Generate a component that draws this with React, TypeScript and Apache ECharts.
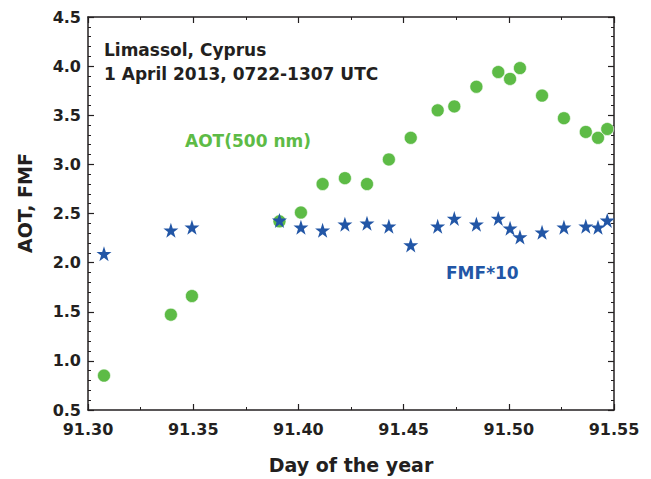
import React, { useEffect, useRef } from "react";
import * as echarts from "echarts";

const days = [
  91.3076, 91.3394, 91.3494, 91.391, 91.4012, 91.4115, 91.4221, 91.4326, 91.443, 91.4534,
  91.4662, 91.4741, 91.4846, 91.495, 91.5006, 91.5053, 91.5158, 91.5262, 91.5366, 91.5424, 91.5468,
];
const aot = [
  0.85, 1.47, 1.66, 2.42, 2.51, 2.8, 2.86, 2.8, 3.05, 3.27, 3.55, 3.59, 3.79, 3.94, 3.87, 3.98, 3.7,
  3.47, 3.33, 3.27, 3.36,
];
const fmf10 = [
  2.09, 2.33, 2.36, 2.43, 2.36, 2.33, 2.39, 2.4, 2.37, 2.18, 2.37, 2.45, 2.39, 2.45, 2.35, 2.26, 2.31,
  2.36, 2.37, 2.36, 2.43,
];

const GREEN = "#5dbb46";
const BLUE = "#2256a6";
const DARK = "#231f20";
const FONT = "DejaVu Sans";

const STAR =
  "path://M50,0 L61.8,35.1 L98.9,35.1 L69.1,56.8 L80.3,91.9 L50,70.2 L19.7,91.9 L30.9,56.8 L1.1,35.1 L38.2,35.1 Z";

export default function App() {
  const ref = useRef<HTMLDivElement>(null);
  useEffect(() => {
    if (!ref.current) return;
    const chart = echarts.init(ref.current, null, { renderer: "svg" });
    const axisCommon = {
      axisLine: { show: true, lineStyle: { color: DARK, width: 1.5 } },
      axisTick: { show: true, inside: true, length: 6, lineStyle: { color: DARK, width: 1.2 } },
      minorTick: { show: true, length: 3, lineStyle: { color: DARK, width: 1 } },
      splitLine: { show: false },
    };
    chart.setOption({
      animation: false,
      backgroundColor: "#ffffff",
      grid: { left: 88, right: 37, top: 17, bottom: 69 },
      xAxis: [
        {
          type: "value",
          min: 91.3,
          max: 91.55,
          interval: 0.05,
          position: "bottom",
          ...axisCommon,
          minorTick: { ...axisCommon.minorTick, splitNumber: 2 },
          axisLabel: {
            margin: 11,
            color: DARK,
            fontFamily: FONT,
            fontWeight: "bold",
            fontSize: 16,
            formatter: (v: number) => v.toFixed(2),
          },
        },
        {
          type: "value",
          min: 91.3,
          max: 91.55,
          interval: 0.05,
          position: "top",
          ...axisCommon,
          minorTick: { ...axisCommon.minorTick, splitNumber: 2 },
          axisLabel: { show: false },
        },
      ],
      yAxis: [
        {
          type: "value",
          min: 0.5,
          max: 4.5,
          interval: 0.5,
          position: "left",
          ...axisCommon,
          minorTick: { ...axisCommon.minorTick, splitNumber: 5 },
          axisLabel: {
            margin: 7,
            color: DARK,
            fontFamily: FONT,
            fontWeight: "bold",
            fontSize: 16,
            formatter: (v: number) => v.toFixed(1),
          },
        },
        {
          type: "value",
          min: 0.5,
          max: 4.5,
          interval: 0.5,
          position: "right",
          ...axisCommon,
          minorTick: { ...axisCommon.minorTick, splitNumber: 5 },
          axisLabel: { show: false },
        },
      ],
      series: [
        {
          name: "AOT(500 nm)",
          type: "scatter",
          xAxisIndex: 0,
          yAxisIndex: 0,
          symbol: "circle",
          symbolSize: 13,
          itemStyle: { color: GREEN, opacity: 1, borderColor: "#ffffff", borderWidth: 0.6 },
          emphasis: { disabled: true },
          data: days.map((d, i) => [d, aot[i]]),
          z: 2,
        },
        {
          name: "FMF*10",
          type: "scatter",
          xAxisIndex: 0,
          yAxisIndex: 0,
          symbol: STAR,
          symbolSize: 15,
          itemStyle: { color: BLUE, opacity: 1 },
          emphasis: { disabled: true },
          data: days.map((d, i) => [d, fmf10[i]]),
          z: 3,
        },
      ],
      graphic: [
        {
          type: "text",
          left: 104,
          top: 38,
          style: {
            text: "Limassol, Cyprus\n1 April 2013, 0722-1307 UTC",
            font: `bold 17px "${FONT}"`,
            fill: DARK,
            lineHeight: 24,
          },
        },
        {
          type: "text",
          left: 185,
          top: 132,
          style: { text: "AOT(500 nm)", font: `bold 17px "${FONT}"`, fill: GREEN },
        },
        {
          type: "text",
          left: 446,
          top: 264,
          style: { text: "FMF*10", font: `bold 17px "${FONT}"`, fill: BLUE },
        },
        {
          type: "text",
          x: 25,
          y: 203,
          rotation: Math.PI / 2,
          style: {
            text: "AOT, FMF",
            font: `bold 19px "${FONT}"`,
            fill: DARK,
            align: "center",
            verticalAlign: "middle",
          },
        },
        {
          type: "text",
          x: 351,
          y: 465,
          style: {
            text: "Day of the year",
            font: `bold 19px "${FONT}"`,
            fill: DARK,
            align: "center",
            verticalAlign: "middle",
          },
        },
      ],
    });
    return () => chart.dispose();
  }, []);
  return <div ref={ref} style={{ width: 651, height: 479, position: "absolute", left: 0, top: 0 }} />;
}
